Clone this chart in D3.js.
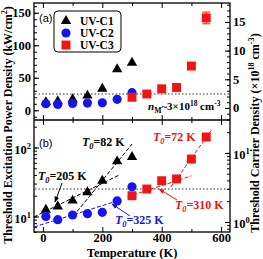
<!DOCTYPE html>
<html><head><meta charset="utf-8">
<script src="https://cdn.jsdelivr.net/npm/d3@7"></script>
<style>
body{margin:0;background:#fff}
svg{display:block}
text{font-family:"Liberation Serif","Times New Roman",serif;font-weight:bold;fill:#000}
</style>
</head><body><script>
// data
var temps = [10, 50, 100, 150, 200, 250, 300];
var powerC1 = [12.5, 14, 17, 22.5, 33, 63, 73];
var powerC2 = [10, 9, 10.5, 11, 11.5, 16.8, 27];
var tempsC3 = [300, 350, 400, 450, 500, 550];
var powerC3 = [20, 25, 33, 35, 68, 142];
var errC3 = [0, 0, 0, 0, 0, 9];
var thresholdPower = 25;   // kW/cm2, dotted line
var seriesNames = ["UV-C1", "UV-C2", "UV-C3"];
// fitted T0 lines: label, start [T,P], end [T,P]
var fitT0 = ["205", "82", "325", "310", "72"];
var fitStart = [[-30, 9.85], [115, 11.8], [-30, 7.05], [285, 19.3], [430, 26.5]];
var fitEnd = [[260, 40.5], [300, 112], [262, 17.4], [500, 38.8], [570, 185]];
var xTicks = [0, 200, 400, 600];
var xMinor = [100, 300, 500];
var topLeftTicks = [0, 50, 100, 150];
var topRightTicks = [0, 5, 10, 15];
var botLeftTicks = [10, 100];
var botRightTicks = [1, 10];

var black = "#000", blue = "#1414f0", red = "#f01414";
var fitColors = [black, black, blue, red, red];

var svg = d3.select("body").append("svg").attr("width", 263).attr("height", 259);

var x = d3.scaleLinear().domain([-30, 630]).range([34, 230]);
var yA = d3.scaleLinear().domain([-15, 165]).range([120, 3]);
var yA2 = d3.scaleLinear().domain([-2.1, 18.3]).range([120, 3]);
var yB = d3.scaleLog().domain([5.96, 242]).range([232, 121]);
var yB2 = d3.scaleLog().domain([0.716, 29]).range([232, 121]);

function rich(sel, parts, fs) {
  // parts: [text, kind] kind: "", "i", "sup", "sub", "isub"
  var shift = 0;
  parts.forEach(function(p) {
    var t = sel.append("tspan").text(p[0]);
    var want = 0;
    if (p[1] == "sup") { want = -fs * 0.4; t.attr("font-size", fs * 0.68); }
    if (p[1] == "sub") { want = fs * 0.25; t.attr("font-size", fs * 0.7); }
    if (p[1] == "isub") { want = fs * 0.25; t.attr("font-size", fs * 0.7).attr("font-style", "italic"); }
    if (p[1] == "i") t.attr("font-style", "italic");
    if (want != shift) { t.attr("dy", want - shift); shift = want; }
  });
}

function ticksFor(g, axisFn, scale, vals, minor, size, pad) {
  g.call(axisFn(scale).tickValues(vals).tickSize(-5).tickPadding(pad || 3))
    .call(function(s) { s.select(".domain").remove(); });
  if (minor) {
    var m = g.append("g").attr("class", "minor")
      .call(axisFn(scale).tickValues(minor).tickSize(-3).tickFormat(""));
    m.select(".domain").remove();
    m.selectAll("text").remove();
  }
  g.selectAll("text").attr("font-size", size).attr("font-family", null);
  g.selectAll("line").attr("stroke", "#000");
}

function logMinor(scale) {
  var d = scale.domain(), out = [];
  for (var e = -1; e < 3; e++) for (var k = 1; k < 10; k++) {
    var v = k * Math.pow(10, e);
    if (v >= d[0] && v <= d[1]) out.push(v);
  }
  return out;
}
function range(a, b, s) { var o = []; for (var v = a; v <= b; v += s) o.push(v); return o; }

// ---- panel frames and ticks
var fs = 12.5;
[[3, 120], [120, 232]].forEach(function(p, i) {
  var top = svg.append("g").attr("transform", "translate(0," + p[0] + ")");
  ticksFor(top, d3.axisTop, x, xTicks, xMinor, fs);
  top.selectAll("text").remove();
  var bot = svg.append("g").attr("transform", "translate(0," + p[1] + ")");
  ticksFor(bot, d3.axisBottom, x, xTicks, xMinor, fs, 1.5);
  if (i == 0) bot.selectAll("text").remove();
});
var gl = svg.append("g").attr("transform", "translate(34,0)");
ticksFor(gl, d3.axisLeft, yA, topLeftTicks, range(-10, 160, 10), fs);
var gr = svg.append("g").attr("transform", "translate(230,0)");
ticksFor(gr, d3.axisRight, yA2, topRightTicks, range(-2, 18, 1), fs);
var bl = svg.append("g").attr("transform", "translate(34,0)");
ticksFor(bl, d3.axisLeft, yB, botLeftTicks, logMinor(yB), fs);
var br = svg.append("g").attr("transform", "translate(230,0)");
ticksFor(br, d3.axisRight, yB2, botRightTicks, logMinor(yB2), fs);
[bl, br].forEach(function(g) {
  g.selectAll(":scope > .tick text").each(function(d) {
    var t = d3.select(this).text("").attr("dy", "0.45em");
    rich(t, [["10", ""], [String(Math.round(Math.log10(d))), "sup"]], fs);
  });
});

svg.append("rect").attr("x", 34).attr("y", 3).attr("width", 196).attr("height", 229)
  .attr("fill", "none").attr("stroke", "#000").attr("stroke-width", 1.3);
svg.append("line").attr("x1", 34).attr("x2", 230).attr("y1", 120).attr("y2", 120)
  .attr("stroke", "#000").attr("stroke-width", 1.3);

// dotted threshold lines
[[yA, thresholdPower], [yB, thresholdPower]].forEach(function(p) {
  svg.append("line").attr("x1", 35).attr("x2", 229)
    .attr("y1", p[0](p[1])).attr("y2", p[0](p[1]))
    .attr("stroke", "#333").attr("stroke-width", 1.1).attr("stroke-dasharray", "1.5,2");
});

// fit lines (panel b)
fitT0.forEach(function(t, i) {
  svg.append("line")
    .attr("x1", x(fitStart[i][0])).attr("y1", yB(fitStart[i][1]))
    .attr("x2", x(fitEnd[i][0])).attr("y2", yB(fitEnd[i][1]))
    .attr("stroke", fitColors[i]).attr("stroke-width", 1).attr("stroke-dasharray", "4,2");
});

// markers
var tri = d3.symbol().type(d3.symbolTriangle).size(46);
var circ = d3.symbol().type(d3.symbolCircle).size(66);
var sq = d3.symbol().type(d3.symbolSquare).size(80);

function drawSeries(ys, xs, vals, sym, col) {
  svg.append("g").selectAll("path").data(vals).enter().append("path")
    .attr("d", sym)
    .attr("fill", col)
    .attr("transform", function(d, i) { return "translate(" + x(xs[i]) + "," + ys(d) + ")"; });
}
// error bar on last UV-C3 point (panel a)
powerC3.forEach(function(v, i) {
  if (!errC3[i]) return;
  var cx = x(tempsC3[i]), y1 = yA(v - errC3[i]), y2 = yA(v + errC3[i]);
  var g = svg.append("g").attr("stroke", red).attr("stroke-width", 1);
  g.append("line").attr("x1", cx).attr("x2", cx).attr("y1", y1).attr("y2", y2);
  g.append("line").attr("x1", cx - 4).attr("x2", cx + 4).attr("y1", y1).attr("y2", y1);
  g.append("line").attr("x1", cx - 4).attr("x2", cx + 4).attr("y1", y2).attr("y2", y2);
});
[yA, yB].forEach(function(ys) {
  drawSeries(ys, temps, powerC1, tri, black);
  drawSeries(ys, temps, powerC2, circ, blue);
  drawSeries(ys, tempsC3, powerC3, sq, red);
});

// legend
svg.append("rect").attr("x", 54).attr("y", 11).attr("width", 67).attr("height", 41).attr("rx", 4)
  .attr("fill", "#fff").attr("stroke", "#000").attr("stroke-width", 1);
[tri, circ, sq].forEach(function(s, i) {
  var cy = 21 + i * 12;
  svg.append("path").attr("d", s).attr("fill", [black, blue, red][i])
    .attr("transform", "translate(66," + cy + ")");
  svg.append("text").attr("x", 80).attr("y", cy + 4).attr("font-size", 11.5).text(seriesNames[i]);
});

// panel letters
svg.append("text").attr("x", 39).attr("y", 22).attr("font-size", 11)
  .style("font-family", "'Liberation Sans',Arial,sans-serif").style("font-weight", "normal").text("(a)");
svg.append("text").attr("x", 39).attr("y", 147).attr("font-size", 11)
  .style("font-family", "'Liberation Sans',Arial,sans-serif").style("font-weight", "normal").text("(b)");

// n_M label
rich(svg.append("text").attr("x", 148).attr("y", 110).attr("font-size", 11),
  [["n", "i"], ["M", "sub"], ["~3×10", ""], ["18", "sup"], [" cm", ""], ["-3", "sup"]], 11);

// T0 labels
var t0Pos = [[38, 180], [82, 146], [115, 224], [175, 209], [153, 141]];
fitT0.forEach(function(t, i) {
  var txt = svg.append("text").attr("x", t0Pos[i][0]).attr("y", t0Pos[i][1])
    .attr("font-size", 12).style("fill", fitColors[i]);
  rich(txt, [["T", "i"], ["0", "isub"], ["=" + t + " K", ""]], 12);
});

// arrows
var defs = svg.append("defs");
[["ab", black], ["abl", blue], ["ar", red]].forEach(function(m) {
  defs.append("marker").attr("id", m[0]).attr("viewBox", "0 0 10 10").attr("refX", 9).attr("refY", 5)
    .attr("markerWidth", 6).attr("markerHeight", 6).attr("orient", "auto")
    .append("path").attr("d", "M0,1L10,5L0,9Z").attr("fill", m[1]);
});
[[62, 183, 55, 202, "ab", black], [130, 216, 112, 204, "abl", blue], [177, 200, 159, 189, "ar", red]]
  .forEach(function(a) {
    svg.append("line").attr("x1", a[0]).attr("y1", a[1]).attr("x2", a[2]).attr("y2", a[3])
      .attr("stroke", a[5]).attr("stroke-width", 1).attr("marker-end", "url(#" + a[4] + ")");
  });

// axis titles
svg.append("text").attr("x", 132).attr("y", 257).attr("text-anchor", "middle").attr("font-size", 12.5)
  .text("Temperature (K)");
rich(svg.append("text").attr("transform", "translate(12,125) rotate(-90)").attr("text-anchor", "middle")
  .attr("font-size", 12), [["Threshold Excitation Power Density (kW/cm", ""], ["2", "sup"], [")", ""]], 12);
rich(svg.append("text").attr("transform", "translate(259,133) rotate(-90)").attr("text-anchor", "middle")
  .attr("font-size", 12), [["Threshold Carrier Density (×10", ""], ["18", "sup"], [" cm", ""], ["-3", "sup"], [")", ""]], 12);
</script></body></html>
